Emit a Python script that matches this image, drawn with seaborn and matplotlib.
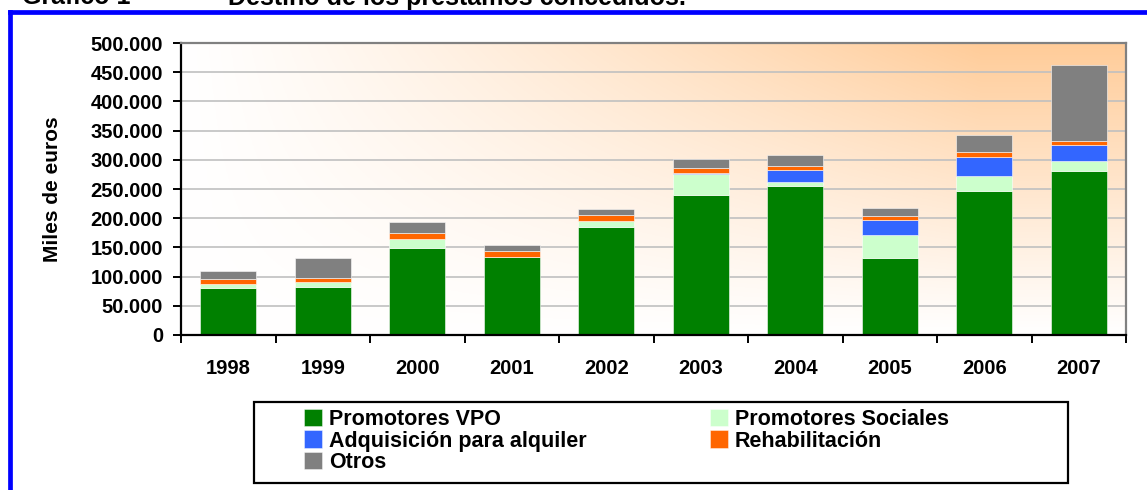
import numpy as np
import pandas as pd
import matplotlib
matplotlib.use("Agg")
import matplotlib.pyplot as plt
from matplotlib.patches import Rectangle
from matplotlib.lines import Line2D
import seaborn as sns

# ---- data (thousands of euros) ----
years = ["1998", "1999", "2000", "2001", "2002", "2003", "2004", "2005", "2006", "2007"]
promotores_vpo = [80000, 83000, 148600, 133000, 185000, 240000, 254300, 132600, 247000, 281000]
promotores_sociales = [7000, 7400, 15400, 600, 11000, 36000, 7400, 39400, 25700, 16600]
adquisicion_alquiler = [0, 0, 0, 0, 0, 1500, 20000, 25100, 32500, 26900]
rehabilitacion = [8500, 8000, 10300, 10000, 9700, 8600, 7400, 7500, 7500, 8000]
otros = [14300, 32600, 19400, 10300, 10300, 15400, 18300, 12500, 29100, 129700]

series_names = ["Promotores VPO", "Promotores Sociales", "Adquisición para alquiler",
                "Rehabilitación", "Otros"]
series_values = [promotores_vpo, promotores_sociales, adquisicion_alquiler,
                 rehabilitacion, otros]
series_colors = ["#008000", "#CCFFCC", "#3366FF", "#FF6600", "#808080"]
y_ticks = [0, 50000, 100000, 150000, 200000, 250000, 300000, 350000, 400000, 450000, 500000]
y_label = "Miles de euros"
title_left = "Gráfico 1"
title_right = "Destino de los préstamos concedidos."

plt.rcParams["font.family"] = ["Liberation Sans", "DejaVu Sans"]
plt.rcParams["font.weight"] = "bold"

W, H = 1147, 490
fig = plt.figure(figsize=(W / 100, H / 100), dpi=100)
fig.patch.set_facecolor("white")

def fx(px):
    return px / W

def fy(py):
    return 1 - py / H

ax_left, ax_right = 181, 1126
ax = fig.add_axes([fx(ax_left), fy(335), fx(ax_right) - fx(ax_left), (335 - 43) / H])

df = pd.DataFrame({"year": years})
for name, vals in zip(series_names, series_values):
    df[name] = vals

bottom = np.zeros(len(years))
for name, col in zip(series_names, series_colors):
    sns.barplot(data=df, x="year", y=name, order=years, color=col, saturation=1,
                width=0.59, bottom=bottom.copy(), errorbar=None,
                edgecolor=(1, 1, 1, 0.55), linewidth=0.7, ax=ax, zorder=2)
    bottom += np.array(df[name], dtype=float)

# gradient background
nx, ny = 400, 200
gx = np.linspace(0, 1, nx)
gy = np.linspace(1, 0, ny)
GX, GY = np.meshgrid(gx, gy)
t = (np.clip(GX * 1.18, 0, 1) ** 1.15) * (GY ** 1.05)
white = np.array([1.0, 1.0, 1.0])
peach = np.array([255, 204, 153]) / 255.0
img = white[None, None, :] * (1 - t[..., None]) + peach[None, None, :] * t[..., None]
ax.imshow(img, extent=(-0.5, 9.5, 0, 500000), aspect="auto", zorder=0)

ax.set_xlim(-0.5, 9.5)
ax.set_ylim(0, 500000)

# grid
ax.set_axisbelow(True)
ax.yaxis.grid(True, color="#C0C0C0", linewidth=1.2)
ax.xaxis.grid(False)

# y axis
ax.set_yticks(y_ticks)
ax.set_yticklabels([f"{v:,.0f}".replace(",", ".") for v in y_ticks])
ax.tick_params(axis="y", direction="out", length=5.8, width=1.4, pad=7,
               labelsize=14.5, colors="black")
ax.set_ylabel(y_label, fontsize=15, fontweight="bold", labelpad=0)
ax.yaxis.set_label_coords((62 - ax_left) / (ax_right - ax_left), 0.5)

# x axis: ticks at boundaries, labels centered on bars
ax.set_xticks(np.arange(-0.5, 10, 1.0))
ax.set_xticklabels([])
ax.set_xticks(np.arange(len(years)), minor=True)
ax.set_xticklabels(years, minor=True)
ax.tick_params(axis="x", which="major", direction="out", length=5.5, width=1.4)
ax.tick_params(axis="x", which="minor", length=0, pad=17, labelsize=14.5)
ax.set_xlabel("")

for s in ["left", "bottom"]:
    ax.spines[s].set_color("black")
    ax.spines[s].set_linewidth(1.6)
for s in ["top", "right"]:
    ax.spines[s].set_color("#808080")
    ax.spines[s].set_linewidth(1.6)

# blue frame
fig.add_artist(Line2D([fx(9.5), fx(9.5)], [fy(11.7), -0.05], color="#0000FF", lw=3.4,
                      transform=fig.transFigure, solid_capstyle="projecting"))
fig.add_artist(Line2D([fx(9.5), 1.05], [fy(11.7), fy(11.7)], color="#0000FF", lw=3.4,
                      transform=fig.transFigure, solid_capstyle="projecting"))

# title (cut at top, as in the reference)
fig.text(fx(22), fy(4.5), title_left, fontsize=18, fontweight="bold", va="baseline", ha="left")
fig.text(fx(228), fy(4.5), title_right, fontsize=18, fontweight="bold", va="baseline", ha="left")

# legend frame
fig.add_artist(Rectangle((fx(254), fy(483)), fx(1068) - fx(254), (483 - 402) / H,
                         transform=fig.transFigure, facecolor="white",
                         edgecolor="black", linewidth=1.6, zorder=3))

handles = [Rectangle((0, 0), 1, 1, facecolor=c, edgecolor=(1, 1, 1, 0.6), linewidth=0.5)
           for c in series_colors]
order = [0, 2, 4, 1, 3]
leg = fig.legend([handles[i] for i in order], [series_names[i] for i in order],
                 ncol=2, loc="upper left", bbox_to_anchor=(fx(304), fy(409)),
                 bbox_transform=fig.transFigure, frameon=False, borderpad=0,
                 borderaxespad=0, labelspacing=0.02,
                 handlelength=0.85, handleheight=0.85, handletextpad=0.3,
                 columnspacing=5.75, prop={"weight": "bold", "size": 15.5})
leg.set_zorder(4)

fig.savefig("out.png", dpi=100, facecolor="white")
